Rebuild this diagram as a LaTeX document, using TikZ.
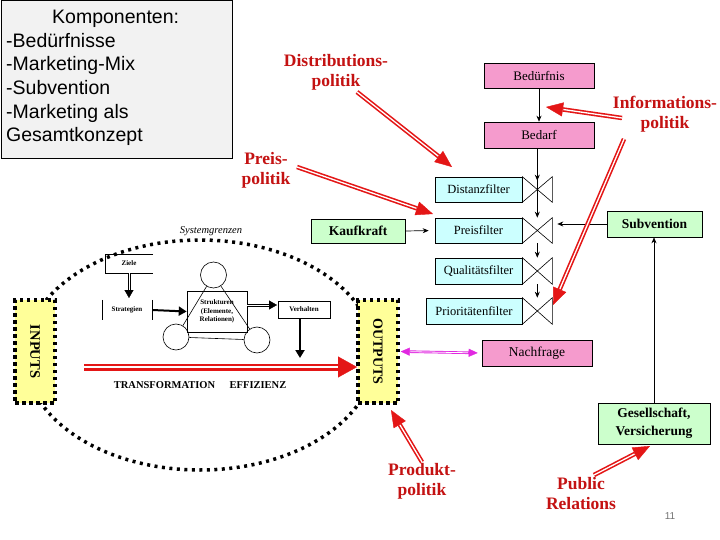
\documentclass[tikz,border=0pt]{standalone}
\usepackage{fontspec}
\setmainfont{Liberation Serif}
\newfontfamily\ksans{Liberation Sans}
\usetikzlibrary{arrows.meta}
\definecolor{pinkc}{RGB}{245,155,205}
\definecolor{cyanc}{RGB}{204,255,255}
\definecolor{greenc}{RGB}{204,255,204}
\definecolor{yellowc}{RGB}{255,255,153}
\definecolor{redtext}{RGB}{196,18,18}
\definecolor{redarr}{RGB}{228,22,22}
\definecolor{magc}{RGB}{225,40,225}
\definecolor{kgray}{RGB}{242,242,242}
\tikzset{
  box/.style={draw=black, line width=0.6pt, inner sep=0pt, align=center},
  pinkbox/.style={box, fill=pinkc, minimum width=110pt, minimum height=25pt, font=\fontsize{13}{15}\selectfont},
  cyanbox/.style={box, fill=cyanc, minimum height=25pt, font=\fontsize{12.5}{15}\selectfont},
  greenbox/.style={box, fill=greenc, font=\fontsize{13.5}{18}\selectfont\bfseries},
  redlabel/.style={text=redtext, font=\fontsize{17.5}{20}\selectfont\bfseries, align=center, inner sep=0pt},
  sysbox/.style={fill=yellowc, draw=black, line width=3.5pt, dash pattern=on 3.5pt off 3.5pt, inner sep=0pt},
  sysdots/.style={draw=black, line width=3.5pt, dash pattern=on 3pt off 4.5pt},
  valve/.style={draw=black, line width=0.6pt},
  blkarrow/.style={-{Stealth[length=6pt,width=5pt]}, line width=0.7pt},
  thickblk/.style={-{Triangle[length=8pt,width=9pt]}, line width=2pt},
  bshaft/.style={draw=black, line width=3pt, -{Triangle[length=8pt,width=9pt,line width=0.3pt]}},
  bgap/.style={draw=white, line width=1pt, shorten >=8.5pt},
  redshaft/.style={draw=redarr, fill=redarr, line width=4.5pt, -{Triangle[length=17pt,width=14pt,line width=0.4pt]}},
  redgap/.style={draw=white, line width=1.3pt, shorten >=17.5pt},
  bigshaft/.style={draw=redarr, fill=redarr, line width=7pt, -{Triangle[length=19pt,width=21pt,line width=0.4pt]}},
  biggap/.style={draw=white, line width=2pt, shorten >=19.5pt},
  magshaft/.style={draw=magc, fill=magc, line width=2.6pt, {Triangle[length=9pt,width=8pt,line width=0.3pt]}-{Triangle[length=9pt,width=8pt,line width=0.3pt]}},
  maggap/.style={draw=white, line width=0.8pt, shorten >=9.5pt, shorten <=9.5pt},
  tiny/.style={font=\fontsize{7}{8.5}\selectfont\bfseries, inner sep=0pt, align=center}
}
\newcommand\redarrow[2]{\draw[redshaft] (#1) -- (#2); \draw[redgap] (#1) -- (#2);}
\newcommand\bigarrow[2]{\draw[bigshaft] (#1) -- (#2); \draw[biggap] (#1) -- (#2);}
\newcommand\blkdbl[2]{\draw[bshaft] (#1) -- (#2); \draw[bgap] (#1) -- (#2);}
\begin{document}
\begin{tikzpicture}[x=1pt, y=-1pt]
\useasboundingbox (0,0) rectangle (720,540);
\fill[white] (0,0) rectangle (720,540);

% Komponenten box
\node[draw=black, line width=0.8pt, fill=kgray, minimum width=231pt, minimum height=158pt, anchor=north west, inner sep=0pt] (kbox) at (0.5,0.5) {};
\node[anchor=north west, align=left, inner sep=0pt, font=\ksans\fontsize{19.5}{23.6}\selectfont] (ktext) at (6,10) {\hspace*{46pt}Komponenten:\\-Bedürfnisse\\-Marketing-Mix\\-Subvention\\-Marketing als\\Gesamtkonzept};

% system boundary
\node[font=\fontsize{10.5}{12}\selectfont\itshape, inner sep=0pt] (sysg) at (211,231) {Systemgrenzen};
\draw[sysdots] (200,355) ellipse [x radius=175pt, y radius=115pt];

% INPUTS / OUTPUTS
\node[sysbox, minimum width=40pt, minimum height=103pt] (inputs) at (35,351.5) {};
\node[rotate=-90, font=\fontsize{14.5}{16}\selectfont\bfseries, inner sep=0pt] (intext) at (inputs.center) {INPUTS};
\node[sysbox, minimum width=40pt, minimum height=103pt] (outputs) at (378,351.5) {};
\node[rotate=-90, font=\fontsize{14}{16}\selectfont\bfseries, inner sep=0pt] (outtext) at (outputs.center) {OUTPUTS};

% inner model
\node[tiny, minimum width=48pt, minimum height=19pt] (ziele) at (129,263.5) {Ziele};
\draw[line width=0.6pt] (ziele.north east) -- (ziele.north west) -- (ziele.south west) -- (ziele.south east);
\node[tiny, minimum width=50pt, minimum height=20pt] (strat) at (127,310) {Strategien};
\draw[line width=0.6pt] (strat.north west) -- (strat.south west);
\draw[line width=0.6pt] (strat.north east) -- (strat.south east);
\node[circle, draw, line width=0.6pt, minimum size=26pt, inner sep=0pt] (ctop) at (213.5,275) {};
\node[circle, draw, line width=0.6pt, minimum size=26pt, inner sep=0pt] (cbl) at (176,337) {};
\node[circle, draw, line width=0.6pt, minimum size=26pt, inner sep=0pt] (cbr) at (257,340) {};
\draw[line width=0.6pt] (ctop) -- (cbl);
\draw[line width=0.6pt] (ctop) -- (cbr);
\draw[line width=0.6pt] (cbl) -- (cbr);
\node[tiny, draw, line width=0.6pt, minimum width=60pt, minimum height=41pt] (struk) at (217,311.5) {Strukturen\\(Elemente,\\Relationen)};
\node[tiny, draw, line width=0.6pt, minimum width=52pt, minimum height=17pt] (verh) at (304,309.5) {Verhalten};
\coordinate (zbot) at (129,273);
\coordinate (stop) at (129,298);
\blkdbl{zbot}{stop}
\draw[thickblk] (strat.east) -- (struk.west);
\coordinate (sk) at (247,305);
\coordinate (vk) at (277,305);
\blkdbl{sk}{vk}
\coordinate (vtop) at (300,318);
\coordinate (vend) at (300,358);
\draw[thickblk] (vtop) -- (vend);

\coordinate (tA) at (84,367);
\coordinate (tB) at (357,367);
\bigarrow{tA}{tB}
\node[font=\fontsize{10.5}{12}\selectfont\bfseries, inner sep=0pt] (trans) at (164.5,385) {TRANSFORMATION};
\node[font=\fontsize{10.5}{12}\selectfont\bfseries, inner sep=0pt] (effiz) at (258,385) {EFFIZIENZ};

% right side boxes
\node[pinkbox] (bed) at (539,75.5) {Bedürfnis};
\node[pinkbox, minimum height=26pt] (bedarf) at (539,135) {Bedarf};
\node[cyanbox, minimum width=87pt] (dist) at (478.5,189.5) {Distanzfilter};
\node[cyanbox, minimum width=87pt] (preis) at (478.5,230.5) {Preisfilter};
\node[cyanbox, minimum width=87pt, minimum height=26pt] (qual) at (478.5,271) {Qualitätsfilter};
\node[cyanbox, minimum width=96pt, minimum height=26pt] (prio) at (474,311) {Prioritätenfilter};
\node[greenbox, minimum width=94pt, minimum height=24pt] (kauf) at (358,231) {Kaufkraft};
\node[greenbox, minimum width=95pt, minimum height=26pt] (subv) at (654.5,224) {Subvention};
\node[pinkbox, minimum height=26pt, font=\fontsize{13.5}{15}\selectfont] (nach) at (537,353) {Nachfrage};
\node[greenbox, minimum width=112pt, minimum height=41pt] (ges) at (654,423.5) {Gesellschaft,\\Versicherung};

% valves
\foreach \f in {dist,preis,qual,prio}{
  \draw[valve] (\f.north east) -- ([xshift=30pt]\f.south east) -- ([xshift=30pt]\f.north east) -- (\f.south east) -- cycle;
  \coordinate (\f-top) at ([xshift=15pt]\f.north east);
  \coordinate (\f-bot) at ([xshift=15pt]\f.south east);
  \coordinate (\f-right) at ([xshift=30pt]\f.east);
}

% black connectors
\draw[blkarrow] (bed.south) -- (bedarf.north);
\draw[blkarrow, line width=1.3pt] (bedarf.south -| dist-top) -- ([yshift=-4pt]dist-top);
\draw[blkarrow, line width=1.3pt] (dist-top) -- (preis-top);
\draw[blkarrow] (preis-bot) -- (qual-top);
\draw[blkarrow] (qual-bot) -- (prio-top);
\draw[blkarrow, shorten >=6pt] (kauf.east) -- (preis.west);
\draw[blkarrow, shorten >=5pt] (subv.west) -- (subv.west -| preis-right);
\draw[blkarrow] (ges.north) -- (ges.north |- subv.south);

% magenta
\draw[magshaft, shorten <=1pt, shorten >=4pt] (outputs.east) -- (nach.west);
\draw[maggap, shorten <=10.5pt, shorten >=13.5pt] (outputs.east) -- (nach.west);

% red labels
\node[redlabel] (distT) at (336,72) {Distributions-\\politik};
\node[redlabel] (preisT) at (266,170) {Preis-\\politik};
\node[redlabel] (infoT) at (665,114) {Informations-\\politik};
\node[redlabel] (prodT) at (422,481) {Produkt-\\politik};
\node[redlabel] (prT) at (581,494) {Public\\Relations};

% red arrows
\coordinate (dA) at (357,92); \coordinate (dB) at (452,167);
\coordinate (pA) at (297,167); \coordinate (pB) at (433,214);
\coordinate (iA) at (622,118); \coordinate (iB) at (546,107);
\coordinate (iC) at (624,139); \coordinate (iD) at (553,305);
\coordinate (prA) at (422,462); \coordinate (prB) at (391,410);
\coordinate (puA) at (594,475); \coordinate (puB) at (650,446);
\redarrow{dA}{dB}
\redarrow{pA}{pB}
\redarrow{iA}{iB}
\redarrow{iC}{iD}
\redarrow{prA}{prB}
\redarrow{puA}{puB}

% page number
\node[font=\ksans\fontsize{10}{12}\selectfont, text=black!55, inner sep=0pt] (pnum) at (670,516) {11};
\end{tikzpicture}
\end{document}
